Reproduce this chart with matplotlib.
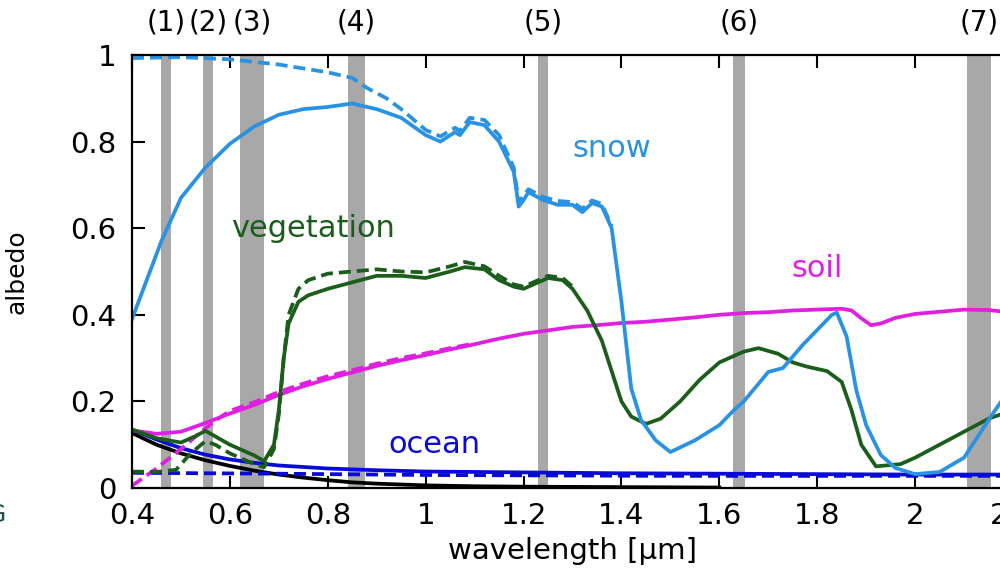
import matplotlib
matplotlib.use("Agg")
import matplotlib.pyplot as plt

# MODIS bands (um)
band_lo = [0.459, 0.545, 0.620, 0.841, 1.230, 1.628, 2.105]
band_hi = [0.479, 0.565, 0.670, 0.876, 1.250, 1.652, 2.155]
band_names = ["(1)", "(2)", "(3)", "(4)", "(5)", "(6)", "(7)"]

# snow
snow_x = [0.40, 0.43, 0.46, 0.50, 0.55, 0.60, 0.65, 0.70, 0.75, 0.80, 0.85, 0.88,
          0.90, 0.95, 1.00, 1.03, 1.06, 1.07, 1.09, 1.12, 1.15, 1.18, 1.19, 1.20,
          1.21, 1.24, 1.27, 1.30, 1.32, 1.34, 1.36, 1.38, 1.40, 1.42, 1.44, 1.47,
          1.50, 1.55, 1.60, 1.63, 1.65, 1.70, 1.73, 1.77, 1.80, 1.83, 1.84, 1.86,
          1.88, 1.90, 1.93, 1.96, 2.00, 2.05, 2.10, 2.15, 2.20]
snow = [0.39, 0.48, 0.57, 0.67, 0.74, 0.795, 0.835, 0.862, 0.875, 0.88, 0.888, 0.88,
        0.875, 0.855, 0.815, 0.80, 0.822, 0.815, 0.845, 0.838, 0.80, 0.73, 0.65, 0.665,
        0.683, 0.665, 0.654, 0.654, 0.637, 0.658, 0.65, 0.60, 0.43, 0.23, 0.157, 0.11,
        0.083, 0.11, 0.145, 0.18, 0.20, 0.268, 0.277, 0.33, 0.365, 0.40, 0.405, 0.35,
        0.225, 0.145, 0.076, 0.046, 0.032, 0.037, 0.07, 0.157, 0.24]
snow_dash_x = [0.40, 0.50, 0.60, 0.70, 0.80, 0.85, 0.88, 0.92, 0.95, 1.00, 1.03, 1.06,
               1.07, 1.09, 1.12, 1.15, 1.18, 1.19, 1.20, 1.21, 1.24, 1.27, 1.30, 1.32,
               1.34, 1.36, 1.38]
snow_dash = [0.993, 0.995, 0.99, 0.978, 0.96, 0.947, 0.924, 0.90, 0.875, 0.827, 0.812, 0.832,
             0.825, 0.855, 0.85, 0.815, 0.74, 0.66, 0.675, 0.69, 0.672, 0.663, 0.66, 0.645,
             0.664, 0.656, 0.605]

# vegetation
veg_x = [0.40, 0.45, 0.50, 0.53, 0.55, 0.60, 0.65, 0.67, 0.69, 0.70, 0.71, 0.72, 0.74,
         0.76, 0.80, 0.85, 0.90, 0.95, 1.00, 1.05, 1.08, 1.12, 1.15, 1.18, 1.20, 1.22,
         1.25, 1.28, 1.30, 1.33, 1.36, 1.38, 1.40, 1.42, 1.45, 1.48, 1.52, 1.56, 1.60,
         1.65, 1.68, 1.72, 1.75, 1.78, 1.82, 1.85, 1.87, 1.89, 1.92, 1.97, 2.00, 2.05,
         2.10, 2.15, 2.20]
veg = [0.135, 0.115, 0.105, 0.12, 0.132, 0.10, 0.075, 0.062, 0.10, 0.18, 0.30, 0.38, 0.43,
       0.445, 0.46, 0.475, 0.49, 0.49, 0.485, 0.50, 0.51, 0.505, 0.48, 0.465, 0.46, 0.47,
       0.485, 0.48, 0.46, 0.41, 0.34, 0.27, 0.20, 0.165, 0.148, 0.16, 0.20, 0.25, 0.29,
       0.315, 0.323, 0.31, 0.29, 0.28, 0.27, 0.245, 0.18, 0.10, 0.05, 0.055, 0.07, 0.10,
       0.13, 0.16, 0.18]
veg_dash_x = [0.40, 0.45, 0.49, 0.52, 0.55, 0.57, 0.60, 0.65, 0.67, 0.69, 0.70, 0.71,
              0.72, 0.74, 0.76, 0.80, 0.85, 0.90, 0.95, 1.00, 1.05, 1.08, 1.12, 1.15,
              1.18, 1.20, 1.22, 1.25, 1.28, 1.30]
veg_dash = [0.038, 0.037, 0.042, 0.08, 0.108, 0.10, 0.08, 0.055, 0.048, 0.09, 0.17, 0.30,
            0.40, 0.46, 0.48, 0.495, 0.50, 0.505, 0.50, 0.498, 0.512, 0.522, 0.512, 0.49,
            0.47, 0.465, 0.475, 0.49, 0.485, 0.465]

# soil
soil_x = [0.40, 0.45, 0.50, 0.55, 0.60, 0.65, 0.70, 0.75, 0.80, 0.85, 0.90, 0.95, 1.00,
          1.05, 1.10, 1.15, 1.20, 1.25, 1.30, 1.35, 1.40, 1.45, 1.50, 1.55, 1.60, 1.65,
          1.70, 1.75, 1.80, 1.85, 1.87, 1.89, 1.91, 1.93, 1.96, 2.00, 2.05, 2.10, 2.15, 2.20]
soil = [0.133, 0.125, 0.13, 0.15, 0.172, 0.192, 0.215, 0.235, 0.252, 0.267, 0.282, 0.295,
        0.307, 0.32, 0.332, 0.345, 0.356, 0.364, 0.372, 0.376, 0.381, 0.384, 0.389, 0.394,
        0.40, 0.404, 0.406, 0.41, 0.412, 0.414, 0.41, 0.392, 0.376, 0.38, 0.393, 0.402,
        0.407, 0.412, 0.411, 0.405]
soil_dash_x = [0.40, 0.45, 0.50, 0.55, 0.58, 0.60, 0.65, 0.70, 0.75, 0.80, 0.85, 0.90,
               0.95, 1.00, 1.05, 1.10]
soil_dash = [0.005, 0.045, 0.09, 0.138, 0.163, 0.178, 0.198, 0.222, 0.241, 0.258, 0.272,
             0.287, 0.30, 0.311, 0.323, 0.334]

# ocean
ocean_x = [0.40, 0.45, 0.50, 0.55, 0.60, 0.65, 0.70, 0.80, 0.90, 1.00, 1.20, 1.40, 1.60,
           1.80, 2.00, 2.20]
ocean = [0.135, 0.112, 0.092, 0.077, 0.066, 0.058, 0.052, 0.045, 0.041, 0.038, 0.036,
         0.034, 0.033, 0.032, 0.031, 0.031]
ocean_dash_x = [0.40, 0.70, 1.00, 1.50, 2.20]
ocean_dash = [0.035, 0.033, 0.03, 0.028, 0.028]

# black curve
black_x = [0.40, 0.45, 0.50, 0.55, 0.60, 0.65, 0.70, 0.75, 0.80, 0.85, 0.90, 1.00, 1.10,
           1.20, 1.40, 1.60]
black = [0.127, 0.10, 0.08, 0.064, 0.051, 0.04, 0.031, 0.024, 0.018, 0.013, 0.01, 0.006,
         0.004, 0.003, 0.002, 0.001]

c_snow = "#2a92e2"
c_veg = "#1b5e1b"
c_soil = "#e020e0"
c_ocean = "#0a0ad8"
dash = (0, (3.2, 1.6))
lw = 2.7

plt.rcParams["font.family"] = ["DejaVu Sans"]

fig = plt.figure(figsize=(10, 5.76), dpi=100)
ax = fig.add_axes([0.132, 0.1528, 0.881, 0.7517])

for lo, hi in zip(band_lo, band_hi):
    ax.axvspan(lo, hi, color="#a8a8a8", lw=0, zorder=0)
for lo, hi, name in zip(band_lo, band_hi, band_names):
    ax.text((lo + hi) / 2, 1.076, name, transform=ax.get_xaxis_transform(),
            ha="center", va="center", fontsize=20)

ax.plot(black_x, black, color="black", lw=lw)
ax.plot(ocean_dash_x, ocean_dash, color=c_ocean, lw=lw, ls=dash)
ax.plot(ocean_x, ocean, color=c_ocean, lw=lw)
ax.plot(soil_dash_x, soil_dash, color=c_soil, lw=lw, ls=dash)
ax.plot(soil_x, soil, color=c_soil, lw=lw)
ax.plot(veg_dash_x, veg_dash, color=c_veg, lw=lw, ls=dash)
ax.plot(veg_x, veg, color=c_veg, lw=lw)
ax.plot(snow_dash_x, snow_dash, color=c_snow, lw=lw, ls=dash)
ax.plot(snow_x, snow, color=c_snow, lw=lw)

ax.text(1.38, 0.785, "snow", color=c_snow, fontsize=22, ha="center", va="center")
ax.text(0.77, 0.60, "vegetation", color=c_veg, fontsize=22, ha="center", va="center")
ax.text(1.80, 0.508, "soil", color=c_soil, fontsize=22, ha="center", va="center")
ax.text(1.018, 0.10, "ocean", color=c_ocean, fontsize=22, ha="center", va="center")

ax.set_xlim(0.4, 2.2)
ax.set_ylim(0, 1)
ax.set_xticks([0.4, 0.6, 0.8, 1.0, 1.2, 1.4, 1.6, 1.8, 2.0, 2.2])
ax.set_xticklabels(["0.4", "0.6", "0.8", "1", "1.2", "1.4", "1.6", "1.8", "2", "2.2"])
ax.set_yticks([0, 0.2, 0.4, 0.6, 0.8, 1.0])
ax.set_yticklabels(["0", "0.2", "0.4", "0.6", "0.8", "1"])
ax.tick_params(direction="in", length=9, width=1.5, labelsize=21,
               top=True, right=True)
ax.tick_params(axis="x", pad=10)
ax.tick_params(axis="y", pad=11)
for s in ax.spines.values():
    s.set_linewidth(1.6)

ax.set_xlabel("wavelength [µm]", fontsize=21, labelpad=5)
ax.set_ylabel("albedo", fontsize=18)
ax.yaxis.set_label_coords(-0.118, 0.5)

fig.text(-0.013, 0.106, "G", color="#1d4f3c", fontsize=18, ha="left", va="center")

fig.savefig("out.png", dpi=100)
